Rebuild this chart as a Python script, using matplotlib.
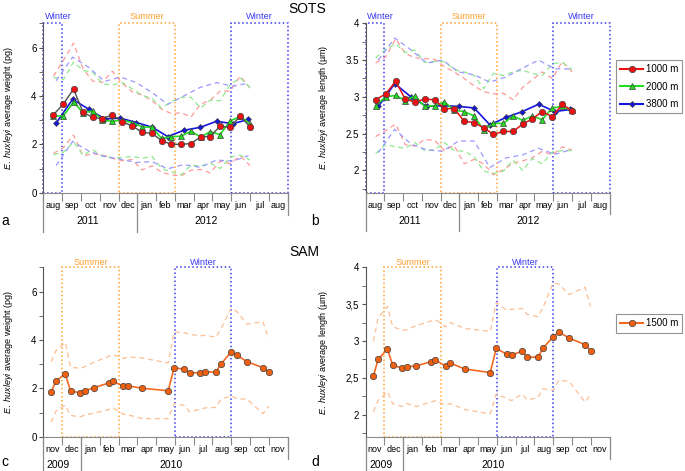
import numpy as np
import matplotlib
matplotlib.use('Agg')
import matplotlib.pyplot as plt
import matplotlib.transforms as mtransforms
from matplotlib.patches import Rectangle
from matplotlib.lines import Line2D

plt.rcParams['font.family'] = ['Liberation Sans', 'DejaVu Sans']
plt.rcParams['mathtext.fontset'] = 'custom'
plt.rcParams['mathtext.it'] = 'Liberation Sans:italic'
plt.rcParams['mathtext.rm'] = 'Liberation Sans'

# x = months since the first month on the axis (aug 2011 for SOTS, nov 2009 for SAM)
sots_months = ['aug', 'sep', 'oct', 'nov', 'dec', 'jan', 'feb', 'mar', 'apr', 'may', 'jun', 'jul', 'aug']
sam_months = ['nov', 'dec', 'jan', 'feb', 'mar', 'apr', 'may', 'jun', 'jul', 'aug', 'sep', 'oct', 'nov']
sots_years = [(2.35, '2011'), (8.65, '2012')]
sam_years = [(0.8, '2009'), (6.8, '2010')]

sots_x = [0.53, 1.06, 1.6, 2.11, 2.62, 3.14, 3.67, 4.2, 4.72, 5.25, 5.78, 6.29, 6.81, 7.34, 7.86,
          8.37, 8.88, 9.41, 9.95, 10.48, 11.0]
sots_x_3800 = [0.67, 1.55, 2.41, 3.25, 4.1, 4.95, 5.78, 6.62, 7.48, 8.35, 9.22, 10.09, 10.92]

# SOTS weight (pg) mean and sd
w_1000 = [3.22, 3.67, 4.28, 3.32, 3.11, 3.06, 3.22, 2.92, 2.77, 2.49, 2.46, 2.15, 2.0, 2.0, 2.03,
          2.31, 2.32, 2.75, 2.7, 3.17, 2.72]
w_1000_sd = [1.6, 1.8, 1.9, 1.8, 1.5, 1.5, 1.8, 1.6, 1.4, 1.55, 1.35, 1.3, 1.27, 1.3, 1.1,
             1.35, 1.5, 1.45, 1.5, 1.65, 1.6]
w_2000 = [3.17, 3.17, 3.75, 3.3, 3.38, 3.0, 2.95, 3.0, 2.9, 2.72, 2.7, 2.25, 2.31, 2.34, 2.54,
          2.3, 2.52, 2.4, 2.97, 3.15, 2.85]
w_2000_sd = [1.6, 1.5, 1.65, 1.75, 1.6, 1.5, 1.5, 1.55, 1.4, 1.3, 1.2, 1.25, 1.45, 1.6, 1.4,
             1.2, 1.3, 1.4, 1.5, 1.6, 1.5]
w_3800 = [2.87, 3.86, 3.45, 3.05, 3.08, 2.9, 2.71, 2.32, 2.58, 2.7, 2.95, 2.85, 3.03]
w_3800_sd = [1.75, 1.74, 1.73, 1.55, 1.7, 1.65, 1.43, 1.33, 1.42, 1.65, 1.6, 1.55, 1.5]

# SOTS length (um) mean and sd
l_1000 = [2.96, 3.04, 3.21, 2.97, 2.93, 2.97, 2.96, 2.84, 2.84, 2.67, 2.65, 2.58, 2.49, 2.53, 2.53,
          2.63, 2.7, 2.8, 2.73, 2.9, 2.81]
l_1000_sd = [0.5, 0.5, 0.58, 0.62, 0.6, 0.55, 0.55, 0.57, 0.5, 0.58, 0.5, 0.49, 0.55, 0.52, 0.43,
             0.5, 0.53, 0.54, 0.52, 0.58, 0.53]
l_2000 = [2.88, 3.0, 3.02, 2.95, 3.01, 2.87, 2.88, 2.93, 2.82, 2.8, 2.74, 2.55, 2.64, 2.64, 2.74,
          2.68, 2.74, 2.69, 2.85, 2.87, 2.82]
l_2000_sd = [0.65, 0.65, 0.7, 0.65, 0.63, 0.6, 0.6, 0.55, 0.55, 0.54, 0.55, 0.56, 0.68, 0.65, 0.6,
             0.68, 0.58, 0.6, 0.6, 0.6, 0.55]
l_3800 = [2.87, 3.18, 3.0, 2.87, 2.88, 2.87, 2.85, 2.62, 2.72, 2.8, 2.9, 2.8, 2.83]
l_3800_sd = [0.63, 0.62, 0.64, 0.59, 0.62, 0.47, 0.45, 0.58, 0.55, 0.59, 0.6, 0.58, 0.55]

# SAM 1500 m
sam_x = [0.41, 0.66, 1.16, 1.44, 1.96, 2.19, 2.7, 3.48, 3.71, 4.26, 4.51, 5.27, 6.64, 6.96, 7.51,
         7.78, 8.33, 8.61, 9.18, 9.45, 10.0, 10.3, 10.85, 11.69, 11.99]
sam_w = [1.85, 2.3, 2.6, 1.88, 1.82, 1.89, 2.03, 2.22, 2.29, 2.08, 2.1, 2.0, 1.9, 2.85, 2.79,
         2.63, 2.65, 2.69, 2.66, 3.0, 3.5, 3.37, 3.1, 2.85, 2.66]
sam_w_sd = [1.25, 1.25, 1.3, 1.0, 1.0, 1.0, 1.05, 1.1, 1.1, 1.15, 1.2, 1.25, 1.15, 1.48, 1.5,
            1.6, 1.52, 1.5, 1.45, 1.45, 1.82, 1.8, 1.55, 1.9, 1.4]
sam_l = [2.52, 2.75, 2.89, 2.67, 2.63, 2.65, 2.66, 2.72, 2.74, 2.66, 2.7, 2.62, 2.57, 2.9, 2.82,
         2.81, 2.86, 2.78, 2.78, 2.9, 3.06, 3.12, 3.04, 2.95, 2.87]
sam_l_sd = [0.48, 0.56, 0.58, 0.52, 0.52, 0.5, 0.55, 0.55, 0.55, 0.53, 0.55, 0.55, 0.56, 0.62, 0.6,
            0.62, 0.58, 0.58, 0.55, 0.55, 0.73, 0.65, 0.59, 0.78, 0.6]

WINTER = '#3a3af0'
SUMMER = '#ffa030'
GREY = '#8a8a8a'
DASH = (0, (4, 3))
MS = 4.6

fig = plt.figure(figsize=(6.85, 4.71), dpi=100)

def px_axes(x0, y0, x1, y1):
  # pixel box -> figure fraction
  return fig.add_axes([x0/685, 1 - y1/471, (x1 - x0)/685, (y1 - y0)/471])

ax_a = px_axes(43.5, 23.3, 287.5, 192.7)
ax_b = px_axes(365.7, 23.3, 609.5, 192.5)
ax_c = px_axes(43.5, 267.3, 287.5, 436.7)
ax_d = px_axes(365.7, 267.3, 609.5, 436.7)


def series(ax, x, mean, sd, color, light, marker, ms, line_color=None, lw=1.2, z=3):
  mean = np.array(mean)
  sd = np.array(sd)
  ax.plot(x, mean + sd, ls=DASH, color=light, lw=0.9, zorder=2)
  ax.plot(x, mean - sd, ls=DASH, color=light, lw=0.9, zorder=2)
  ax.plot(x, mean, color=line_color or color, lw=lw, marker=marker, ms=ms,
          mfc=color, mec='#404040', mew=0.5, zorder=z)


def season(ax, x0, x1, label, color, left=False, dy=2):
  y0, y1 = ax.get_ylim()
  ax.add_patch(Rectangle((x0, y0), x1 - x0, y1 - y0, fill=False, ec=color, ls=':', lw=1.1,
                         clip_on=False, zorder=1))
  if left:
    ax.annotate(label, (x0, y1), xytext=(1, dy), textcoords='offset points', color=color,
                fontsize=6.7, ha='left', va='bottom')
  else:
    ax.annotate(label, ((x0 + x1)/2, y1), xytext=(0, dy), textcoords='offset points', color=color,
                fontsize=6.7, ha='center', va='bottom')


def frame(ax, months, years, new_year, ylim, major, minor, fmt):
  ax.set_xlim(0, 13)
  ax.set_ylim(*ylim)
  for s in ['top', 'right']:
    ax.spines[s].set_visible(False)
  ax.spines['left'].set_color('#555555')
  ax.spines['bottom'].set_color(GREY)
  ax.set_xticks(range(14))
  ax.set_xticklabels([])
  ax.set_xticks(np.arange(13) + 0.5, minor=True)
  ax.set_xticklabels(months, minor=True, fontsize=6.5)
  ax.tick_params(axis='x', which='major', length=6, color=GREY, direction='out')
  ax.tick_params(axis='x', which='minor', length=0, pad=6)
  ax.set_yticks(minor, minor=True)
  ax.set_yticks(major)
  ax.set_yticklabels(fmt)
  ax.tick_params(axis='y', which='both', length=3, color='#555555', labelsize=7, pad=2)
  trans = mtransforms.blended_transform_factory(ax.transData, ax.transAxes)
  for xs, txt in years:
    ax.text(xs, -0.17, txt, transform=trans, ha='center', va='center', fontsize=7.5)
  # year separators under the axis
  for xv, bottom in [(0, -0.23), (new_year, -0.23), (13, -0.13)]:
    ax.plot([xv, xv], [0, bottom], transform=trans, color=GREY, lw=0.9, clip_on=False)


w_lab = r'$\mathit{E.\ huxleyi}$ average weight (pg)'
l_lab = r'$\mathit{E.\ huxleyi}$ average length (µm)'

# --- a: SOTS weight
frame(ax_a, sots_months, sots_years, 5, (0, 7), [0, 2, 4, 6], range(8), ['0', '2', '4', '6'])
series(ax_a, sots_x, w_1000, w_1000_sd, '#ee1111', '#ff9a9a', 'o', MS, line_color='#505050', lw=1.0, z=5)
series(ax_a, sots_x, w_2000, w_2000_sd, '#22dd22', '#90e890', '^', MS, z=4)
series(ax_a, sots_x_3800, w_3800, w_3800_sd, '#1515e0', '#9a9aff', 'D', 3.0, z=3)
season(ax_a, 0, 1, 'Winter', WINTER, left=True)
season(ax_a, 4, 7, 'Summer', SUMMER)
season(ax_a, 10, 13, 'Winter', WINTER)
ax_a.set_ylabel(w_lab, fontsize=6.5)
ax_a.yaxis.set_label_coords(-0.115, 0.5)

# --- b: SOTS length
frame(ax_b, sots_months, sots_years, 5, (1.7, 4), [2, 2.5, 3, 3.5, 4],
      np.arange(1.75, 4.01, 0.25), ['2', '2.5', '3', '3.5', '4'])
series(ax_b, sots_x, l_1000, l_1000_sd, '#ee1111', '#ff9a9a', 'o', MS, line_color='#ee1111', lw=1.1, z=5)
series(ax_b, sots_x, l_2000, l_2000_sd, '#22dd22', '#90e890', '^', MS, z=4)
series(ax_b, sots_x_3800, l_3800, l_3800_sd, '#1515e0', '#9a9aff', 'D', 3.0, z=3)
season(ax_b, 0, 1, 'Winter', WINTER, left=True)
season(ax_b, 4, 7, 'Summer', SUMMER)
season(ax_b, 10, 13, 'Winter', WINTER)
ax_b.set_ylabel(l_lab, fontsize=6.5)
ax_b.yaxis.set_label_coords(-0.145, 0.5)

# --- c: SAM weight
frame(ax_c, sam_months, sam_years, 2, (0, 7), [0, 2, 4, 6], range(8), ['0', '2', '4', '6'])
series(ax_c, sam_x, sam_w, sam_w_sd, '#f06010', '#fcbf94', 'o', MS, line_color='#f26a20', lw=1.2)
season(ax_c, 1, 4, 'Summer', SUMMER, dy=0)
season(ax_c, 7, 10, 'Winter', WINTER, dy=0)
ax_c.set_ylabel(w_lab, fontsize=6.5)
ax_c.yaxis.set_label_coords(-0.115, 0.5)

# --- d: SAM length (comma decimals as in the original)
frame(ax_d, sam_months, sam_years, 2, (1.7, 4), [2, 2.5, 3, 3.5, 4],
      np.arange(1.75, 4.01, 0.25), ['2', '2,5', '3', '3,5', '4'])
series(ax_d, sam_x, sam_l, sam_l_sd, '#f06010', '#fcbf94', 'o', MS, line_color='#f26a20', lw=1.2)
season(ax_d, 1, 4, 'Summer', SUMMER, dy=0)
season(ax_d, 7, 10, 'Winter', WINTER, dy=0)
ax_d.set_ylabel(l_lab, fontsize=6.5)
ax_d.yaxis.set_label_coords(-0.145, 0.5)

# legends
leg_kw = dict(loc='upper left', fontsize=7, frameon=True, fancybox=False, edgecolor='#777777',
              handlelength=2.3, handletextpad=0.3, borderaxespad=0, borderpad=0.45)
h_sots = [Line2D([], [], color='#ee1111', marker='o', ms=MS, mfc='#ee1111', mec='#404040', mew=0.5),
          Line2D([], [], color='#22dd22', marker='^', ms=MS, mfc='#22dd22', mec='#404040', mew=0.5),
          Line2D([], [], color='#1515e0', marker='D', ms=3.0, mfc='#1515e0', mec='#404040', mew=0.5)]
leg = fig.legend(h_sots, ['1000 m', '2000 m', '3800 m'], bbox_to_anchor=(616/685, 1 - 60/471),
                 labelspacing=0.75, **leg_kw)
leg.get_frame().set_linewidth(0.8)
h_sam = [Line2D([], [], color='#f26a20', marker='o', ms=MS, mfc='#f06010', mec='#404040', mew=0.5)]
leg2 = fig.legend(h_sam, ['1500 m'], bbox_to_anchor=(616/685, 1 - 314/471), **leg_kw)
leg2.get_frame().set_linewidth(0.8)

# titles and panel letters
fig.text(307/685, 1 - 9/471, 'SOTS', ha='center', va='center', fontsize=10)
fig.text(304/685, 1 - 252/471, 'SAM', ha='center', va='center', fontsize=10)
for x, y, t in [(1, 221, 'a'), (311, 221, 'b'), (1, 462, 'c'), (311, 462, 'd')]:
  fig.text(x/685, 1 - y/471, t, ha='left', va='center', fontsize=10)

plt.savefig('out.png', dpi=100)
plt.close()
